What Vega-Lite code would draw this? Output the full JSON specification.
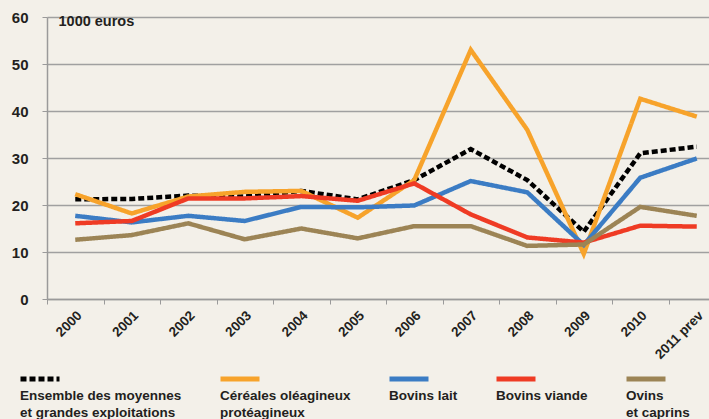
{
  "$schema": "https://vega.github.io/schema/vega-lite/v6.json",
  "width": 662,
  "height": 282,
  "autosize": {"type": "none"},
  "padding": {"left": 47, "top": 17, "right": 0, "bottom": 120},
  "background": "#f3f0e9",
  "config": {
    "view": {"stroke": null},
    "font": "Liberation Sans Narrow, Liberation Sans, sans-serif"
  },
  "data": {
    "values": [
      {"year": "2000", "series": "Ensemble", "value": 21.2},
      {"year": "2001", "series": "Ensemble", "value": 21.3},
      {"year": "2002", "series": "Ensemble", "value": 22.0},
      {"year": "2003", "series": "Ensemble", "value": 21.8},
      {"year": "2004", "series": "Ensemble", "value": 23.0},
      {"year": "2005", "series": "Ensemble", "value": 21.2},
      {"year": "2006", "series": "Ensemble", "value": 25.3},
      {"year": "2007", "series": "Ensemble", "value": 31.9},
      {"year": "2008", "series": "Ensemble", "value": 25.3},
      {"year": "2009", "series": "Ensemble", "value": 14.3},
      {"year": "2010", "series": "Ensemble", "value": 31.0},
      {"year": "2011 prev", "series": "Ensemble", "value": 32.4},
      {"year": "2000", "series": "Céréales", "value": 22.3},
      {"year": "2001", "series": "Céréales", "value": 18.2},
      {"year": "2002", "series": "Céréales", "value": 21.8},
      {"year": "2003", "series": "Céréales", "value": 22.8},
      {"year": "2004", "series": "Céréales", "value": 23.0},
      {"year": "2005", "series": "Céréales", "value": 17.3},
      {"year": "2006", "series": "Céréales", "value": 25.3},
      {"year": "2007", "series": "Céréales", "value": 53.0},
      {"year": "2008", "series": "Céréales", "value": 36.0},
      {"year": "2009", "series": "Céréales", "value": 9.6},
      {"year": "2010", "series": "Céréales", "value": 42.6},
      {"year": "2011 prev", "series": "Céréales", "value": 38.8},
      {"year": "2000", "series": "Bovins lait", "value": 17.7},
      {"year": "2001", "series": "Bovins lait", "value": 16.3},
      {"year": "2002", "series": "Bovins lait", "value": 17.7},
      {"year": "2003", "series": "Bovins lait", "value": 16.6},
      {"year": "2004", "series": "Bovins lait", "value": 19.6},
      {"year": "2005", "series": "Bovins lait", "value": 19.5},
      {"year": "2006", "series": "Bovins lait", "value": 19.9},
      {"year": "2007", "series": "Bovins lait", "value": 25.1},
      {"year": "2008", "series": "Bovins lait", "value": 22.7},
      {"year": "2009", "series": "Bovins lait", "value": 11.5},
      {"year": "2010", "series": "Bovins lait", "value": 25.8},
      {"year": "2011 prev", "series": "Bovins lait", "value": 29.9},
      {"year": "2000", "series": "Bovins viande", "value": 16.1},
      {"year": "2001", "series": "Bovins viande", "value": 16.6},
      {"year": "2002", "series": "Bovins viande", "value": 21.4},
      {"year": "2003", "series": "Bovins viande", "value": 21.4},
      {"year": "2004", "series": "Bovins viande", "value": 21.9},
      {"year": "2005", "series": "Bovins viande", "value": 20.9},
      {"year": "2006", "series": "Bovins viande", "value": 24.6},
      {"year": "2007", "series": "Bovins viande", "value": 18.0},
      {"year": "2008", "series": "Bovins viande", "value": 13.1},
      {"year": "2009", "series": "Bovins viande", "value": 12.0},
      {"year": "2010", "series": "Bovins viande", "value": 15.6},
      {"year": "2011 prev", "series": "Bovins viande", "value": 15.4},
      {"year": "2000", "series": "Ovins", "value": 12.6},
      {"year": "2001", "series": "Ovins", "value": 13.6},
      {"year": "2002", "series": "Ovins", "value": 16.1},
      {"year": "2003", "series": "Ovins", "value": 12.7},
      {"year": "2004", "series": "Ovins", "value": 15.0},
      {"year": "2005", "series": "Ovins", "value": 12.9},
      {"year": "2006", "series": "Ovins", "value": 15.5},
      {"year": "2007", "series": "Ovins", "value": 15.5},
      {"year": "2008", "series": "Ovins", "value": 11.3},
      {"year": "2009", "series": "Ovins", "value": 11.6},
      {"year": "2010", "series": "Ovins", "value": 19.6},
      {"year": "2011 prev", "series": "Ovins", "value": 17.7}
    ]
  },
  "mark": {"type": "line", "strokeWidth": 4.5, "strokeCap": "butt", "strokeJoin": "miter"},
  "encoding": {
    "x": {
      "field": "year",
      "type": "ordinal",
      "scale": {"type": "band", "range": [0, 678], "paddingInner": 0, "paddingOuter": 0},
      "axis": {
        "title": null,
        "labelAngle": -45,
        "labelAlign": "right",
        "labelBaseline": "middle",
        "labelOffset": 4,
        "labelPadding": 9,
        "labelFontSize": 13.5,
        "labelFontWeight": "bold",
        "labelColor": "#231f20",
        "tickBand": "extent",
        "tickSize": 5,
        "tickColor": "#9a9a9a",
        "domainColor": "#9a9a9a",
        "domainWidth": 1.5,
        "grid": false
      }
    },
    "y": {
      "field": "value",
      "type": "quantitative",
      "scale": {"domain": [0, 60], "nice": false},
      "axis": {
        "values": [0, 10, 20, 30, 40, 50, 60],
        "title": "1000 euros",
        "titleAngle": 0,
        "titleAlign": "left",
        "titleBaseline": "middle",
        "titleX": 11,
        "titleY": 4,
        "titleFontSize": 14.5,
        "titleFontWeight": "bold",
        "titleColor": "#231f20",
        "labelFontSize": 15,
        "labelFontWeight": "bold",
        "labelColor": "#231f20",
        "labelPadding": 14,
        "tickSize": 5,
        "tickColor": "#9a9a9a",
        "domainColor": "#9a9a9a",
        "domainWidth": 1.5,
        "gridColor": "#a0a0a0",
        "gridWidth": 1.5
      }
    },
    "color": {
      "field": "series",
      "type": "nominal",
      "scale": {
        "domain": ["Ensemble", "Céréales", "Bovins lait", "Bovins viande", "Ovins"],
        "range": ["#000000", "#f7a32b", "#3b7cc4", "#ef3b24", "#9c8455"]
      },
      "legend": {
        "title": null,
        "orient": "none",
        "legendX": -27,
        "legendY": 358,
        "direction": "horizontal",
        "columns": 5,
        "gridAlign": "none",
        "columnPadding": 28,
        "symbolType": "stroke",
        "symbolSize": 1521,
        "symbolStrokeWidth": 5,
        "symbolOffset": 0,
        "labelOffset": 0,
        "labelFontSize": 13.5,
        "labelFontWeight": "bold",
        "labelColor": "#231f20",
        "labelLimit": 400,
        "labelExpr": "datum.label == 'Ensemble' ? ['Ensemble des moyennes', 'et grandes exploitations'] : datum.label == 'Céréales' ? ['Céréales oléagineux', 'protéagineux'] : datum.label == 'Ovins' ? ['Ovins', 'et caprins'] : [datum.label, ' ']",
        "encode": {
          "symbols": {"update": {"x": {"value": 20}, "y": {"value": 4}}},
          "labels": {"update": {"x": {"value": 0}, "y": {"value": 14}, "baseline": {"value": "top"}, "align": {"value": "left"}, "lineHeight": {"value": 17}}}
        }
      }
    },
    "strokeDash": {
      "field": "series",
      "type": "nominal",
      "scale": {
        "domain": ["Ensemble", "Céréales", "Bovins lait", "Bovins viande", "Ovins"],
        "range": [[6, 3], [1, 0], [1, 0], [1, 0], [1, 0]]
      },
      "legend": null
    },
    "order": {"field": "series", "type": "nominal"}
  }
}
